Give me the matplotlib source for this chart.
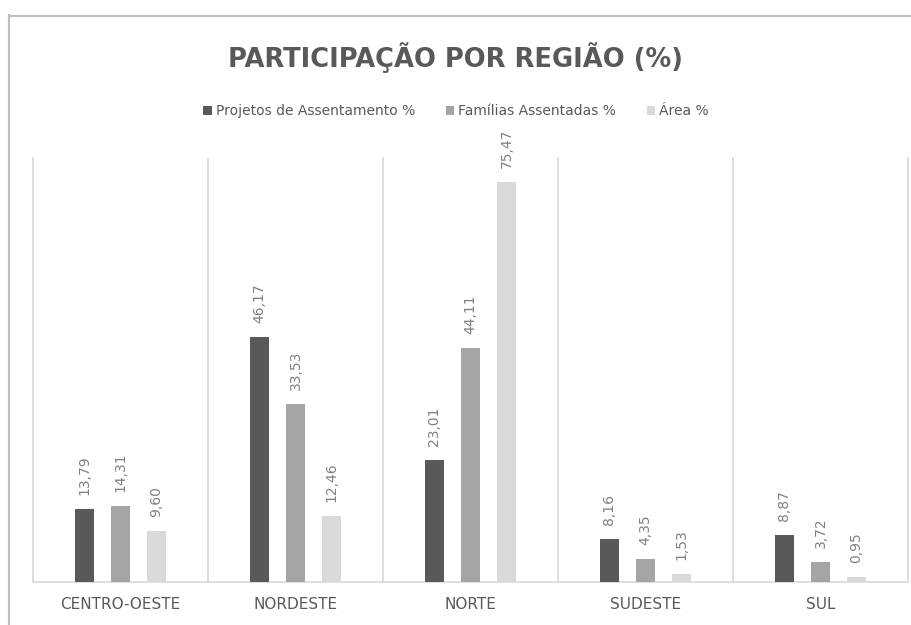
import numpy as np
import matplotlib.pyplot as plt
from matplotlib.lines import Line2D

regioes = ["CENTRO-OESTE", "NORDESTE", "NORTE", "SUDESTE", "SUL"]
projetos = [13.79, 46.17, 23.01, 8.16, 8.87]
familias = [14.31, 33.53, 44.11, 4.35, 3.72]
area = [9.60, 12.46, 75.47, 1.53, 0.95]
series_names = ["Projetos de Assentamento %", "Famílias Assentadas %", "Área %"]
colors = ["#595959", "#A5A5A5", "#D9D9D9"]

W, H = 912, 625
fig = plt.figure(figsize=(W / 100, H / 100), dpi=100)
ax = fig.add_axes([33 / W, 43 / H, 875 / W, 424 / H])

x = np.arange(len(regioes))
offsets = [-0.206, 0.0, 0.206]
width = 0.106

for vals, off, col, name in zip([projetos, familias, area], offsets, colors, series_names):
    bars = ax.bar(x + off, vals, width, color=col, label=name, zorder=3)
    for rect, v in zip(bars, vals):
        ax.annotate(f"{v:.2f}".replace(".", ","),
                    (rect.get_x() + rect.get_width() / 2, rect.get_height()),
                    xytext=(0, 14), textcoords="offset pixels",
                    ha="center", va="bottom", rotation=90,
                    fontsize=10, color="#808080", annotation_clip=False)

ax.set_xlim(-0.5, len(regioes) - 0.5)
ax.set_ylim(0, 80)
ax.set_yticks([])
ax.set_xticks(x)
ax.set_xticklabels(regioes, fontsize=11, color="#595959")
ax.tick_params(axis="x", length=0, pad=11)

# separators between categories
for b in np.arange(-0.5, len(regioes), 1.0):
    ax.axvline(b, color="#D9D9D9", lw=1.2, zorder=1, clip_on=False)

for s in ["top", "right", "left"]:
    ax.spines[s].set_visible(False)
ax.spines["bottom"].set_color("#D9D9D9")
ax.spines["bottom"].set_linewidth(1.2)

fig.text(0.5, 1 - 58 / H, "PARTICIPAÇÃO POR REGIÃO (%)", ha="center", va="center",
         fontsize=18.5, fontweight="bold", color="#595959")

handles, labels = ax.get_legend_handles_labels()
fig.legend(handles, labels, loc="center", bbox_to_anchor=(0.5, 1 - 111 / H), ncol=3,
           frameon=False, fontsize=10, handlelength=0.6, handleheight=0.6,
           handletextpad=0.3, columnspacing=2.2, labelcolor="#595959")

# outer frame (only top and left edges visible)
fig.add_artist(Line2D([9.5 / W, 9.5 / W], [0, 1 - 15 / H], transform=fig.transFigure,
                      color="#BFBFBF", lw=1.5))
fig.add_artist(Line2D([9 / W, 1], [1 - 15.5 / H, 1 - 15.5 / H], transform=fig.transFigure,
                      color="#BFBFBF", lw=1.5))

fig.savefig("out.png", dpi=100, facecolor="white")
